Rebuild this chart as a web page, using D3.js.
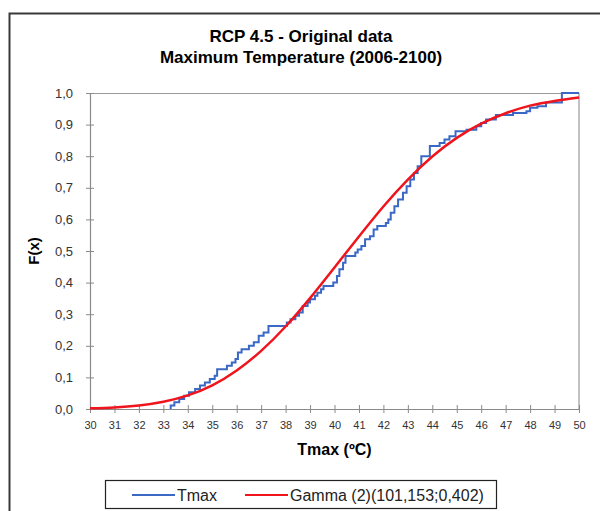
<!DOCTYPE html>
<html lang="en">
<head>
<meta charset="utf-8">
<title>RCP 4.5 - Original data</title>
<script src="https://d3js.org/d3.v7.min.js"></script>
<style>
  body { margin: 0; background: #fff; font-family: "Liberation Sans", Arial, sans-serif; }
  .tick text { fill: #333; }
</style>
</head>
<body>
<script>
// Gamma (2) fitted CDF
var gammaX = [30, 31, 32, 33, 34, 35, 36, 37, 38, 39, 40, 41, 42, 43, 44, 45, 46, 47, 48, 49, 50];
var gammaF = [0.002, 0.005, 0.011, 0.023, 0.043, 0.075, 0.122, 0.184, 0.261, 0.351, 0.448,
              0.546, 0.641, 0.726, 0.799, 0.858, 0.903, 0.936, 0.960, 0.975, 0.986];

// empirical steps (Tmax), jump position and level after the jump
var tmaxX = [33.30, 33.45, 33.65, 33.85, 34.05, 34.30, 34.50, 34.70, 34.90, 35.10, 35.20, 35.60,
             35.80, 35.95, 36.05, 36.20, 36.50, 36.70, 36.90, 37.10, 37.30, 38.05, 38.20, 38.40,
             38.55, 38.70, 38.90, 39.00, 39.20, 39.30, 39.45, 39.55, 39.95, 40.10, 40.20, 40.35,
             40.45, 40.85, 40.95, 41.10, 41.25, 41.45, 41.60, 41.75, 42.10, 42.20, 42.30, 42.45,
             42.60, 42.80, 42.95, 43.10, 43.25, 43.40, 43.55, 43.90, 44.30, 44.50, 44.70, 44.95,
             45.40, 45.80, 46.00, 46.20, 46.60, 47.30, 47.85, 48.00, 48.30, 48.65, 49.30];
var tmaxF = [0.011, 0.021, 0.032, 0.042, 0.053, 0.063, 0.074, 0.084, 0.095, 0.105, 0.126, 0.137,
             0.147, 0.158, 0.179, 0.189, 0.200, 0.211, 0.232, 0.242, 0.263, 0.274, 0.284, 0.295,
             0.305, 0.326, 0.337, 0.347, 0.358, 0.368, 0.379, 0.389, 0.400, 0.421, 0.442, 0.463,
             0.484, 0.495, 0.505, 0.516, 0.537, 0.547, 0.568, 0.579, 0.589, 0.600, 0.621, 0.642,
             0.663, 0.684, 0.705, 0.726, 0.747, 0.768, 0.800, 0.832, 0.842, 0.853, 0.863, 0.879,
             0.884, 0.895, 0.905, 0.916, 0.930, 0.937, 0.942, 0.953, 0.958, 0.970, 1.000];

var xTicks = d3.range(30, 51, 1);
var yTicks = [0, 0.1, 0.2, 0.3, 0.4, 0.5, 0.6, 0.7, 0.8, 0.9, 1.0];

var W = 600, H = 511;
var margin = {top: 93, left: 90},
    width = 489,
    height = 316;

var svg = d3.select("body").append("svg")
    .attr("width", W)
    .attr("height", H);

// outer chart frame (runs past the right / bottom edge)
svg.append("rect")
    .attr("x", 9.5).attr("y", 13.5)
    .attr("width", 620).attr("height", 520)
    .attr("fill", "none")
    .attr("stroke", "#3a3a3a")
    .attr("stroke-width", 2);

// title
svg.append("text")
    .attr("x", 301).attr("y", 42)
    .attr("text-anchor", "middle")
    .attr("font-size", "17px").attr("font-weight", "bold")
    .text("RCP 4.5 - Original data");
svg.append("text")
    .attr("x", 301).attr("y", 63)
    .attr("text-anchor", "middle")
    .attr("font-size", "17px").attr("font-weight", "bold")
    .text("Maximum Temperature (2006-2100)");

var x = d3.scaleLinear().domain([30, 50]).range([0, width]);
var y = d3.scaleLinear().domain([0, 1]).range([height, 0]);

var g = svg.append("g")
    .attr("transform", "translate(" + margin.left + "," + margin.top + ")");

// plot area border (top + right)
g.append("path")
    .attr("d", "M0,0.5H" + width + "V" + height)
    .attr("fill", "none")
    .attr("stroke", "#9a9a9a")
    .attr("stroke-width", 1.2);

// x axis
var xAxis = g.append("g")
    .attr("transform", "translate(0," + height + ")")
    .call(d3.axisBottom(x).tickValues(xTicks).tickSizeInner(4).tickSizeOuter(0).tickPadding(8)
      .tickFormat(d3.format("d")));
xAxis.selectAll(".tick line").attr("y1", -4).attr("stroke", "#8a8a8a");
xAxis.select(".domain").attr("stroke", "#8a8a8a").attr("stroke-width", 1.2);
xAxis.selectAll("text").attr("font-size", "11px").attr("font-family", "Liberation Sans, Arial");

// y axis
var comma = function(d) { return d3.format(".1f")(d).replace(".", ","); };
var yAxis = g.append("g")
    .call(d3.axisLeft(y).tickValues(yTicks).tickSizeInner(4).tickSizeOuter(0).tickPadding(13)
      .tickFormat(comma));
yAxis.selectAll(".tick line").attr("x1", 4).attr("stroke", "#8a8a8a");
yAxis.select(".domain").attr("stroke", "#8a8a8a").attr("stroke-width", 1.2);
yAxis.selectAll("text").attr("font-size", "13px").attr("font-family", "Liberation Sans, Arial");

// axis titles
svg.append("text")
    .attr("x", margin.left + width / 2).attr("y", 455)
    .attr("text-anchor", "middle")
    .attr("font-size", "16px").attr("font-weight", "bold")
    .text("Tmax (ºC)");
svg.append("text")
    .attr("transform", "translate(39," + (margin.top + height / 2) + ")rotate(-90)")
    .attr("text-anchor", "middle")
    .attr("font-size", "15px").attr("font-weight", "bold")
    .text("F(x)");

// empirical step line
var stepData = [[tmaxX[0], 0]];
tmaxX.forEach(function(d, i) { stepData.push([d, tmaxF[i]]); });
stepData.push([50, 1]);

g.append("path")
    .datum(stepData)
    .attr("fill", "none")
    .attr("stroke", "#3b68c4")
    .attr("stroke-width", 2)
    .attr("d", d3.line()
      .x(function(d) { return x(d[0]); })
      .y(function(d) { return y(d[1]); })
      .curve(d3.curveStepAfter));

// gamma fit
g.append("path")
    .datum(gammaX.map(function(d, i) { return [d, gammaF[i]]; }))
    .attr("fill", "none")
    .attr("stroke", "#f0141c")
    .attr("stroke-width", 2.5)
    .attr("d", d3.line()
      .x(function(d) { return x(d[0]); })
      .y(function(d) { return y(d[1]); })
      .curve(d3.curveNatural));

// legend
var leg = svg.append("g");
leg.append("rect")
    .attr("x", 105.5).attr("y", 480.5)
    .attr("width", 391).attr("height", 28)
    .attr("fill", "#fff")
    .attr("stroke", "#222")
    .attr("stroke-width", 1.2);
var items = [
  {label: "Tmax", color: "#3b68c4", x0: 132},
  {label: "Gamma (2)(101,153;0,402)", color: "#f0141c", x0: 245}
];
items.forEach(function(it) {
  leg.append("line")
      .attr("x1", it.x0).attr("x2", it.x0 + 43)
      .attr("y1", 495).attr("y2", 495)
      .attr("stroke", it.color).attr("stroke-width", 2);
  leg.append("text")
      .attr("x", it.x0 + 45).attr("y", 500.5)
      .attr("font-size", "16px")
      .attr("fill", "#222")
      .text(it.label);
});
</script>
</body>
</html>
